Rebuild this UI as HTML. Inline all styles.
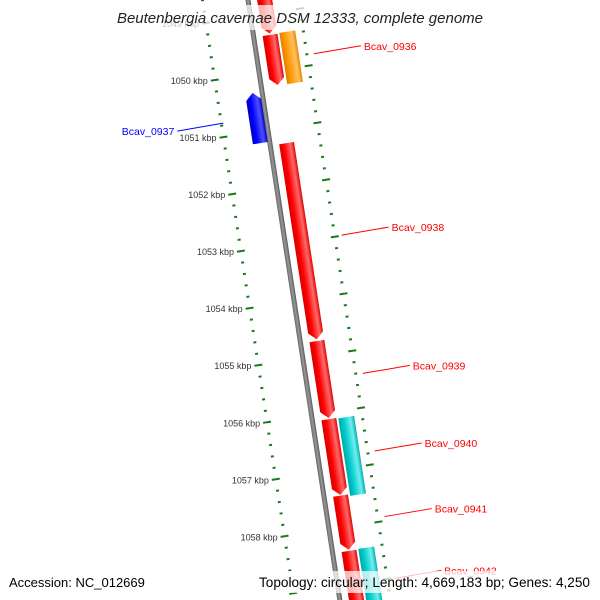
<!DOCTYPE html>
<html><head><meta charset="utf-8"><style>
html,body{margin:0;padding:0;background:#fff;overflow:hidden;width:600px;height:600px}
svg{display:block;overflow:hidden;font-family:"Liberation Sans",sans-serif}
</style></head><body>
<svg id="chart" width="600" height="600" viewBox="0 0 600 600" xmlns="http://www.w3.org/2000/svg">
<defs>
<clipPath id="frame"><rect x="0" y="0" width="600" height="600"/></clipPath>
<linearGradient id="gRed" x1="0" x2="1" y1="0" y2="0"><stop offset="0" stop-color="#d80000"/><stop offset="0.3" stop-color="#ff0000"/><stop offset="0.75" stop-color="#ff6a6a"/><stop offset="1" stop-color="#e00000"/></linearGradient>
<linearGradient id="gOrange" x1="0" x2="1"><stop offset="0" stop-color="#e08000"/><stop offset="0.3" stop-color="#ff9900"/><stop offset="0.75" stop-color="#ffc060"/><stop offset="1" stop-color="#e88a00"/></linearGradient>
<linearGradient id="gBlue" x1="0" x2="1"><stop offset="0" stop-color="#0000c0"/><stop offset="0.3" stop-color="#0000ff"/><stop offset="0.75" stop-color="#5050ff"/><stop offset="1" stop-color="#0000d0"/></linearGradient>
<linearGradient id="gCyan" x1="0" x2="1"><stop offset="0" stop-color="#00a8a8"/><stop offset="0.3" stop-color="#00cccc"/><stop offset="0.75" stop-color="#70eeee"/><stop offset="1" stop-color="#00b0b0"/></linearGradient>
<linearGradient id="gGray" x1="0" x2="1"><stop offset="0" stop-color="#666"/><stop offset="0.5" stop-color="#999"/><stop offset="1" stop-color="#555"/></linearGradient>
</defs>
<g clip-path="url(#frame)">
<g id="rot" transform="rotate(-8.7,248,0)"></g>
<g id="over"></g>
</g>
</svg>
<script>
// data
const geneNames = ["", "Bcav_0936", "", "Bcav_0937", "Bcav_0938", "Bcav_0939", "Bcav_0940", "", "Bcav_0941", "Bcav_0942", ""];
const geneStart = [1048.45, 1049.37, 1049.36, 1050.32, 1051.27, 1054.74, 1056.11, 1056.12, 1057.45, 1058.42, 1058.41];
const geneEnd   = [1049.35, 1050.25, 1050.26, 1051.20, 1054.71, 1056.09, 1057.44, 1057.48, 1058.40, 1059.60, 1059.60];
const geneStrand = [1, 1, 0, -1, 1, 1, 1, 0, 1, 1, 0];
const geneRow = [1, 1, 2, -1, 1, 1, 1, 2, 1, 1, 2];
const geneColor = ["red","red","orange","blue","red","red","red","cyan","red","red","cyan"];
const tickKbp = [1049, 1050, 1051, 1052, 1053, 1054, 1055, 1056, 1057, 1058];
const tickLabels = ["1049 kbp","1050 kbp","1051 kbp","1052 kbp","1053 kbp","1054 kbp","1055 kbp","1056 kbp","1057 kbp","1058 kbp"];

const NS="http://www.w3.org/2000/svg";
const th=8.7*Math.PI/180, C=Math.cos(th), S=Math.sin(th), CX=248;
const s0=74.1, pxPerKbp=57.69;
function sPos(k){return s0+(k-1050)*pxPerKbp;}
function toScreen(d,s){return [CX+d*C+s*S, -d*S+s*C];}
const rot=document.getElementById('rot'), over=document.getElementById('over');
function mk(tag,attrs,parent){const e=document.createElementNS(NS,tag);for(const a in attrs)e.setAttribute(a,attrs[a]);parent.appendChild(e);return e;}

// backbone
const bb=mk('rect',{x:CX-2.5,y:-10,width:5,height:620,fill:'url(#gGray)'},rot);



// ticks
const dIn=-45, dOut=50;
for(let k=10472;k<=10596;k+=2){
  const kb=k/10, s=sPos(kb), major=(k%10===0);
  const len=major?8:3;
  [dIn,dOut].forEach(d=>{
    const t=mk('line',{x1:CX+d-len/2,x2:CX+d+len/2,y1:s,y2:s,stroke:'#1a7a1a','stroke-width':2},rot);
    
    
  });
}
tickKbp.forEach((k,i)=>{
  const p=toScreen(dIn-7,sPos(k));
  const t=mk('text',{x:p[0],y:p[1]+3,'text-anchor':'end','font-size':9,fill:'#333'},over);
  t.textContent=tickLabels[i];
  
  
});

// genes
const rows={1:[9,24],2:[26,42],'-1':[-17,-2]};
const fills={red:'url(#gRed)',orange:'url(#gOrange)',blue:'url(#gBlue)',cyan:'url(#gCyan)'};
const labelCol={red:'#ff0000',blue:'#0000ff',orange:'#ff9900',cyan:'#00cccc'};
geneStart.forEach((st,i)=>{
  const a=sPos(st), b=sPos(geneEnd[i]); const [x1,x2]=rows[geneRow[i]]; const xm=(x1+x2)/2; const tip=7;
  let pts;
  if(geneStrand[i]===1) pts=[[x1,a],[x2,a],[x2,b-tip],[xm,b],[x1,b-tip]];
  else if(geneStrand[i]===-1) pts=[[xm,a],[x2,a+tip],[x2,b],[x1,b],[x1,a+tip]];
  else pts=[[x1,a],[x2,a],[x2,b],[x1,b]];
  const g=mk('polygon',{points:pts.map(p=>(CX+p[0])+','+p[1]).join(' '),fill:fills[geneColor[i]]},rot);
  
  
  if(geneNames[i]){
    const mid=(a+b)/2;
    let p0,p1,tx,anchor;
    if(geneStrand[i]===-1){p0=toScreen(dIn+2,mid);p1=[p0[0]-46,p0[1]+8];tx=p1[0]-3;anchor='end';}
    else{p0=toScreen(dOut+7,mid);p1=[p0[0]+47,p0[1]-8];tx=p1[0]+3;anchor='start';}
    const col=labelCol[geneColor[i]];
    const l=mk('line',{x1:p0[0],y1:p0[1],x2:p1[0],y2:p1[1],stroke:col,'stroke-width':1},over);
    
    
    const t=mk('text',{x:tx,y:p1[1]+4,'text-anchor':anchor,'font-size':10.5,fill:col},over);
    t.textContent=geneNames[i];
    
    
  }
});

// title & footer
function band(x,y,w,h,name){const r=mk('rect',{x:x,y:y,width:w,height:h,fill:'#fff','fill-opacity':0.72},over);}
band(110,5,380,25,'title-background');
const title=mk('text',{x:300,y:23,'text-anchor':'middle','font-size':15,'font-style':'italic',fill:'#222'},over);
title.textContent='Beutenbergia cavernae DSM 12333, complete genome';


band(5,571,142,22,'accession-background');
band(256,571,338,22,'topology-background');
const acc=mk('text',{x:9,y:587,'font-size':13,fill:'#000'},over);
acc.textContent='Accession: NC_012669';


const topo=mk('text',{x:590,y:587,'text-anchor':'end','font-size':13.6,fill:'#000'},over);
topo.textContent='Topology: circular; Length: 4,669,183 bp; Genes: 4,250';


</script>
</body></html>
